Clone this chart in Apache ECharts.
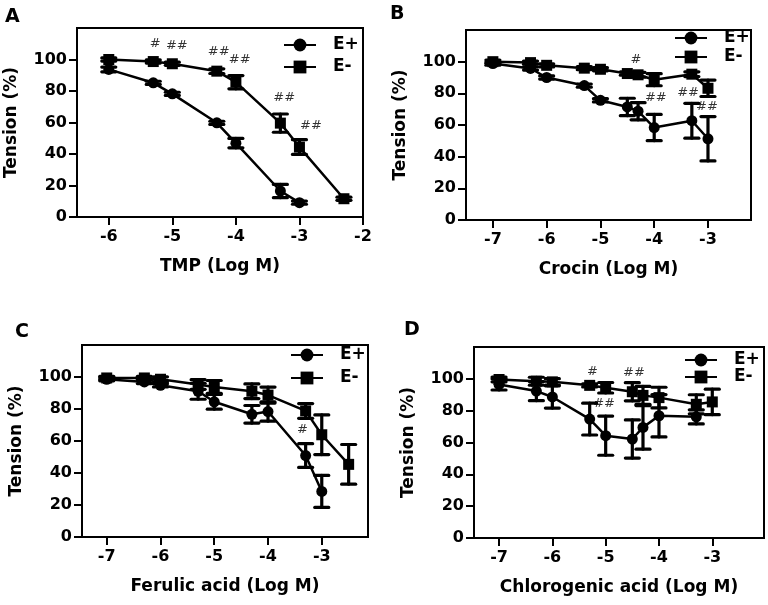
<!DOCTYPE html>
<html>
<head>
<meta charset="utf-8">
<script src="https://cdn.jsdelivr.net/npm/echarts@6/dist/echarts.min.js"></script>
<style>
  html, body { margin: 0; background: #fff; }
  #chart { width: 768px; height: 605px; }
</style>
</head>
<body>
<div id="chart"></div>
<script>
// Tension (%) dose-response curves, E+ vs E- (endothelium intact / denuded)

// A — TMP
const aPlusX = [-6, -5.3, -5, -4.3, -4, -3.3, -3];
const aPlus = [93.7, 85.2, 78.2, 59.8, 46.9, 16.5, 9.1];
const aPlusErr = [1.5, 1, 1, 1, 3, 4.2, 1];
const aMinusX = [-6, -5.3, -5, -4.3, -4, -3.3, -3, -2.3];
const aMinus = [100, 98.7, 97.3, 92.6, 85.6, 59.6, 44.4, 11.6];
const aMinusErr = [1, 1, 1, 1.5, 4.2, 5.8, 4.7, 1];
const aSigX = [-5.27, -4.93, -4.27, -3.94, -3.24, -2.82];
const aSigY = [110, 109, 104.7, 99.8, 76.1, 58.1];
const aSigText = ['#', '##', '##', '##', '##', '##'];

// B — Crocin
const bPlusX = [-7, -6.3, -6, -5.3, -5, -4.5, -4.3, -4, -3.3, -3];
const bPlus = [98.8, 95.7, 90, 84.9, 75.6, 71.4, 68.7, 58.4, 62.7, 51.3];
const bPlusErr = [1, 1, 1, 1, 1, 5.5, 5.4, 8.3, 11, 14];
const bMinusX = [-7, -6.3, -6, -5.3, -5, -4.5, -4.3, -4, -3.3, -3];
const bMinus = [100, 99.4, 97.7, 95.9, 95.2, 92.5, 91.7, 88.6, 92.1, 83.2];
const bMinusErr = [1, 1, 1, 1, 1, 1, 1.5, 3.8, 1.5, 5.2];
const bSigX = [-4.34, -3.97, -3.37, -3.02];
const bSigY = [101.4, 77, 80.7, 71.8];
const bSigText = ['#', '##', '##', '##'];

// C — Ferulic acid
const cPlusX = [-7, -6.3, -6, -5.3, -5, -4.3, -4, -3.3, -3];
const cPlus = [98.6, 96.9, 94.8, 91.1, 84.5, 76.7, 78.4, 50.9, 28.5];
const cPlusErr = [1, 1, 1, 5, 4.6, 5.5, 6, 7.4, 10];
const cMinusX = [-7, -6.3, -6, -5.3, -5, -4.3, -4, -3.3, -3, -2.5];
const cMinus = [99.4, 99.4, 98.6, 95.3, 93.8, 91.1, 88.7, 78.8, 63.9, 45.4];
const cMinusErr = [1, 1, 1.5, 3, 4, 4.6, 5, 4.6, 12.4, 12.4];
const cSigX = [-3.36];
const cSigY = [67];
const cSigText = ['#'];

// D — Chlorogenic acid
const dPlusX = [-7, -6.3, -6, -5.3, -5, -4.5, -4.3, -4, -3.3];
const dPlus = [96.5, 92.3, 88.6, 74.7, 64.3, 62.2, 69.5, 76.8, 76.1];
const dPlusErr = [3.5, 6, 7, 10, 12.3, 12, 13.7, 13.3, 4.4];
const dMinusX = [-7, -6.3, -6, -5.3, -5, -4.5, -4.3, -4, -3.3, -3];
const dMinus = [99.6, 98.5, 98.1, 95.9, 94.4, 91.9, 89.6, 88.2, 84, 85.5];
const dMinusErr = [1.5, 2.5, 2, 1, 3.3, 5.7, 5.7, 6.5, 6, 8];
const dSigX = [-5.25, -5.03, -4.47];
const dSigY = [104.8, 84.2, 103.7];
const dSigText = ['#', '##', '##'];

const yTicks = [0, 20, 40, 60, 80, 100];

const panels = [
  { letter: 'A', title: 'TMP (Log M)', xMin: -6.5, xMax: -2, xTicks: [-6, -5, -4, -3, -2],
    grid: { left: 77, top: 28, width: 286, height: 189 },
    legend: { left: 283, top: 36, gap: 4 }, letterPos: { left: 5, top: 8 },
    plus: [aPlusX, aPlus, aPlusErr], minus: [aMinusX, aMinus, aMinusErr], sig: [aSigX, aSigY, aSigText] },
  { letter: 'B', title: 'Crocin (Log M)', xMin: -7.5, xMax: -2.2, xTicks: [-7, -6, -5, -4, -3],
    grid: { left: 466, top: 30, width: 285, height: 190 },
    legend: { left: 674, top: 29, gap: 1 }, letterPos: { left: 390, top: 5 },
    plus: [bPlusX, bPlus, bPlusErr], minus: [bMinusX, bMinus, bMinusErr], sig: [bSigX, bSigY, bSigText] },
  { letter: 'C', title: 'Ferulic acid (Log M)', xMin: -7.46, xMax: -2.14, xTicks: [-7, -6, -5, -4, -3],
    grid: { left: 82, top: 345, width: 286, height: 192 },
    legend: { left: 290, top: 346, gap: 5 }, letterPos: { left: 15, top: 323 },
    plus: [cPlusX, cPlus, cPlusErr], minus: [cMinusX, cMinus, cMinusErr], sig: [cSigX, cSigY, cSigText] },
  { letter: 'D', title: 'Chlorogenic acid (Log M)', xMin: -7.47, xMax: -2.03, xTicks: [-7, -6, -5, -4, -3],
    grid: { left: 474, top: 347, width: 290, height: 191 },
    legend: { left: 684, top: 351, gap: -1 }, letterPos: { left: 404, top: 321 },
    plus: [dPlusX, dPlus, dPlusErr], minus: [dMinusX, dMinus, dMinusErr], sig: [dSigX, dSigY, dSigText] },
];

const FONT = 'DejaVu Sans';
const zip = (xs, ys) => xs.map((x, i) => [x, ys[i]]);
const errData = (xs, ys, es) => xs.map((x, i) => [x, ys[i] - es[i], ys[i] + es[i]]);

function errItem(params, api) {
  const x = api.value(0);
  const top = api.coord([x, api.value(2)]);
  const bot = api.coord([x, api.value(1)]);
  const w = 7;
  const st = { stroke: '#000', lineWidth: 3.2, lineCap: 'round' };
  return {
    type: 'group',
    children: [
      { type: 'line', shape: { x1: top[0], y1: top[1], x2: bot[0], y2: bot[1] }, style: st },
      { type: 'line', shape: { x1: top[0] - w, y1: top[1], x2: top[0] + w, y2: top[1] }, style: st },
      { type: 'line', shape: { x1: bot[0] - w, y1: bot[1], x2: bot[0] + w, y2: bot[1] }, style: st },
    ],
  };
}

const option = { animation: false, title: [], grid: [], xAxis: [], yAxis: [], legend: [], series: [] };

panels.forEach((p, i) => {
  option.title.push({ text: p.letter, left: p.letterPos.left, top: p.letterPos.top, padding: 0,
    textStyle: { fontFamily: FONT, fontWeight: 'bold', fontSize: 19, color: '#000' } });
  option.grid.push(Object.assign({ show: true, borderColor: '#000', borderWidth: 2 }, p.grid));
  option.xAxis.push({
    gridIndex: i, type: 'value', min: p.xMin, max: p.xMax,
    name: p.title, nameLocation: 'middle', nameGap: 41,
    nameTextStyle: { fontFamily: FONT, fontWeight: 'bold', fontSize: 17, color: '#000' },
    axisLine: { onZero: false, lineStyle: { color: '#000', width: 2 } },
    axisTick: { customValues: p.xTicks, length: 8, lineStyle: { color: '#000', width: 2 } },
    axisLabel: { customValues: p.xTicks, margin: 12, fontFamily: FONT, fontWeight: 'bold', fontSize: 16, color: '#000' },
    splitLine: { show: false },
  });
  option.yAxis.push({
    gridIndex: i, type: 'value', min: 0, max: 120,
    name: 'Tension (%)', nameLocation: 'middle', nameGap: 57,
    nameTextStyle: { fontFamily: FONT, fontWeight: 'bold', fontSize: 17, color: '#000' },
    axisLine: { lineStyle: { color: '#000', width: 2 } },
    axisTick: { customValues: yTicks, length: 8, lineStyle: { color: '#000', width: 2 } },
    axisLabel: { customValues: yTicks, margin: 10, fontFamily: FONT, fontWeight: 'bold', fontSize: 16, color: '#000' },
    splitLine: { show: false },
  });
  option.legend.push({
    data: ['E+', 'E-'], orient: 'vertical', left: p.legend.left, top: p.legend.top,
    itemWidth: 32, itemHeight: 16, itemGap: p.legend.gap - 0, selectedMode: false, padding: 0,
    textStyle: { fontFamily: FONT, fontWeight: 'bold', fontSize: 17, lineHeight: 18, color: '#000', padding: [0, 0, 0, 12] },
  });
  const axes = { xAxisIndex: i, yAxisIndex: i };
  [['E+', 'circle', p.plus], ['E-', 'rect', p.minus]].forEach(([name, sym, d]) => {
    option.series.push(Object.assign({
      type: 'line', name: name, data: zip(d[0], d[1]), symbol: sym, symbolSize: 11,
      showAllSymbol: true, lineStyle: { color: '#000', width: 2.5 }, itemStyle: { color: '#000' }, z: 3,
    }, axes));
    option.series.push(Object.assign({
      type: 'custom', name: name + ' SEM', renderItem: errItem, data: errData(d[0], d[1], d[2]),
      encode: { x: 0, y: [1, 2] }, silent: true, z: 2,
    }, axes));
  });
  option.series.push(Object.assign({
    type: 'scatter', name: 'sig', symbolSize: 0, silent: true, z: 4,
    data: p.sig[0].map((x, k) => [x, p.sig[1][k], p.sig[2][k]]),
    label: { show: true, position: 'inside', formatter: q => q.value[2],
      fontFamily: FONT, fontSize: 13, color: '#000' },
  }, axes));
});

const chart = echarts.init(document.getElementById('chart'), null, { renderer: 'canvas' });
chart.setOption(option);
</script>
</body>
</html>
